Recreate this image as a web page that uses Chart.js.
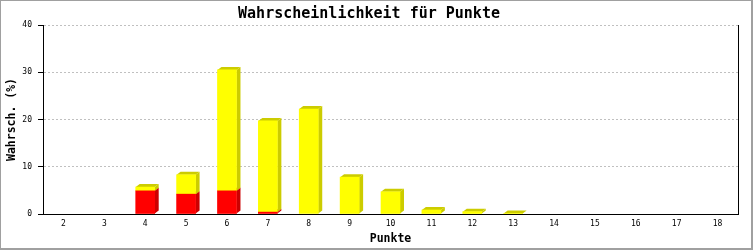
<!DOCTYPE html>
<html>
<head>
<meta charset="utf-8">
<script src="https://cdn.jsdelivr.net/npm/chart.js@4/dist/chart.umd.min.js"></script>
<style>
  html, body { margin: 0; padding: 0; background: #fff; }
  #wrap { width: 753px; height: 250px; position: relative; }
</style>
</head>
<body>
<div id="wrap"><canvas id="c" width="753" height="250"></canvas></div>
<script>
const categories = ['2','3','4','5','6','7','8','9','10','11','12','13','14','15','16','17','18'];
const redValues    = [null, null, 4.9, 4.2, 4.9, 0.4, null, null, null, null, null, null, null, null, null, null, null];
const yellowValues = [null, null, 0.8, 4.1, 25.6, 19.3, 22.2, 7.8, 4.7, 0.85, 0.5, 0.1, null, null, null, null, null];
const yTicks = [0, 10, 20, 30, 40];

const titleText = 'Wahrscheinlichkeit für Punkte';
const yTitle = 'Wahrsch. (%)';
const xTitle = 'Punkte';

const MONO = '"DejaVu Sans Mono", "Liberation Mono", monospace';
const sideColors = ['#cc0000', '#cccc00'];

const framePlugin = {
  id: 'frame',
  beforeDraw(chart) {
    const ctx = chart.ctx;
    ctx.save();
    ctx.fillStyle = '#ffffff';
    ctx.fillRect(0, 0, chart.width, chart.height);
    ctx.restore();
  },
  afterDraw(chart) {
    const ctx = chart.ctx;
    const w = chart.width, h = chart.height;
    ctx.save();
    ctx.fillStyle = '#a0a0a0';
    ctx.fillRect(0, 0, w, 1);
    ctx.fillRect(0, 0, 1, h);
    ctx.fillRect(w - 2, 0, 2, h);
    ctx.fillRect(0, h - 2, w, 2);
    const a = chart.chartArea;
    ctx.fillStyle = '#000000';
    ctx.fillRect(Math.round(a.right), Math.round(a.top), 1, Math.round(a.bottom - a.top) + 1);
    ctx.restore();
  }
};

const depthPlugin = {
  id: 'depth',
  beforeDatasetsDraw(chart) {
    const ctx = chart.ctx;
    const dx = 4, dy = 3;
    ctx.save();
    chart.data.datasets.forEach((ds, di) => {
      const meta = chart.getDatasetMeta(di);
      meta.data.forEach((bar, i) => {
        if (ds.data[i] === null || ds.data[i] === 0) return;
        const p = bar.getProps(['x', 'y', 'base', 'width'], true);
        const l = p.x - p.width / 2, r = p.x + p.width / 2;
        const top = Math.min(p.y, p.base), bot = Math.max(p.y, p.base);
        ctx.fillStyle = sideColors[di];
        ctx.beginPath();
        ctx.moveTo(r, top);
        ctx.lineTo(r + dx, top - dy);
        ctx.lineTo(r + dx, bot - dy);
        ctx.lineTo(r, bot);
        ctx.closePath();
        ctx.fill();
        ctx.beginPath();
        ctx.moveTo(l, top);
        ctx.lineTo(l + dx, top - dy);
        ctx.lineTo(r + dx, top - dy);
        ctx.lineTo(r, top);
        ctx.closePath();
        ctx.fill();
      });
    });
    ctx.restore();
  }
};

new Chart(document.getElementById('c'), {
  type: 'bar',
  data: {
    labels: categories,
    datasets: [
      { label: 'rot', data: redValues, backgroundColor: '#ff0000', borderWidth: 0, barThickness: 19 },
      { label: 'gelb', data: yellowValues, backgroundColor: '#ffff00', borderWidth: 0, barThickness: 19 }
    ]
  },
  options: {
    responsive: false,
    animation: false,
    devicePixelRatio: 1,
    layout: { padding: { left: 0, right: 15, top: 0, bottom: 0 } },
    plugins: {
      legend: { display: false },
      tooltip: { enabled: false },
      title: {
        display: true,
        text: titleText,
        color: '#000',
        font: { family: MONO, size: 15, weight: 'bold', lineHeight: 1.2 },
        padding: { top: 5, bottom: 2 }
      }
    },
    scales: {
      x: {
        stacked: true,
        offset: true,
        grid: { display: false, drawTicks: false },
        border: { display: true, color: '#000', width: 1 },
        ticks: { color: '#000', font: { family: MONO, size: 8 }, padding: 5, maxRotation: 0, autoSkip: false },
        title: { display: true, text: xTitle, color: '#000', font: { family: MONO, size: 11.5, weight: 'bold', lineHeight: 1.2 }, padding: { top: 0, bottom: 4 } },
        afterFit(scale) { scale.height = 36; }
      },
      y: {
        stacked: true,
        min: 0,
        max: 40,
        afterBuildTicks(scale) { scale.ticks = yTicks.map(v => ({ value: v })); },
        grid: {
          color: (c) => (c.tick && c.tick.value === 0) ? 'rgba(0,0,0,0)' : '#c0c0c0',
          lineWidth: 1,
          drawTicks: true,
          tickLength: 5,
          tickColor: '#000',
          tickBorderDash: [],
          tickWidth: 1
        },
        border: { display: true, color: '#000', width: 1, dash: [2, 2] },
        ticks: { color: '#000', font: { family: MONO, size: 8 }, padding: 6 },
        title: { display: true, text: yTitle, color: '#000', font: { family: MONO, size: 11.5, weight: 'bold', lineHeight: 1.2 }, padding: { top: 5, bottom: 0 } },
        afterFit(scale) { scale.width = 43; }
      }
    }
  },
  plugins: [framePlugin, depthPlugin]
});
</script>
</body>
</html>
